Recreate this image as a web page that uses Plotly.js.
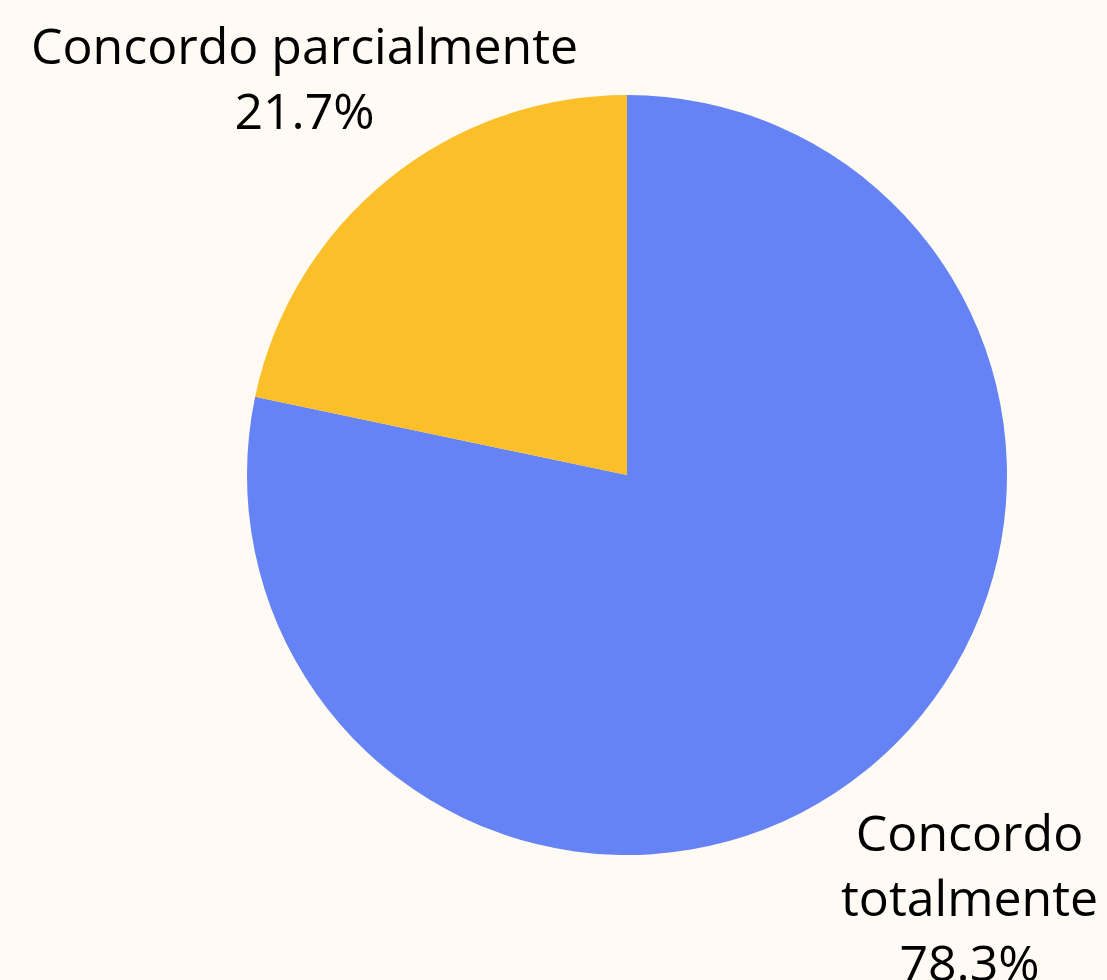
<!DOCTYPE html>
<html>
<head>
<meta charset="utf-8">
<script src="https://cdn.plot.ly/plotly-3.0.1.min.js"></script>
<style>html,body{margin:0;padding:0;background:#FFFAF3;}</style>
</head>
<body>
<div id="chart" style="width:1107px;height:980px;"></div>
<script>
const labels = ['Concordo totalmente', 'Concordo parcialmente'];
const displayLabels = ['Concordo<br>totalmente', 'Concordo parcialmente'];
const values = [78.3, 21.7];
const colors = ['#6583F4', '#FBBF29'];

// label placement (style): distance from centre in units of the pie radius
const labelRadius = [1.43, 1.346];

const total = values.reduce((a, b) => a + b, 0);
const annotations = [];
let cum = 0;
values.forEach((v, i) => {
  const mid = (cum + v / 2) / total * 2 * Math.PI; // clockwise from 12 o'clock
  cum += v;
  const pct = (v / total * 100).toFixed(1) + '%';
  annotations.push({
    xref: 'paper', yref: 'paper',
    x: 0.5 + 0.5 * labelRadius[i] * Math.sin(mid),
    y: 0.5 + 0.5 * labelRadius[i] * Math.cos(mid),
    xanchor: 'center', yanchor: 'middle',
    text: displayLabels[i] + '<br>' + pct,
    showarrow: false,
    align: 'center',
    font: {family: 'Open Sans', size: 50, color: '#000000'}
  });
});

Plotly.newPlot('chart', [{
  type: 'pie',
  labels: labels,
  values: values,
  textinfo: 'none',
  sort: false,
  direction: 'clockwise',
  rotation: 0,
  marker: {colors: colors, line: {width: 0}},
  hoverinfo: 'label+percent'
}], {
  width: 1107, height: 980,
  paper_bgcolor: '#FFFAF3',
  plot_bgcolor: '#FFFAF3',
  showlegend: false,
  margin: {l: 247, r: 100, t: 95, b: 125, autoexpand: false},
  annotations: annotations
}, {displayModeBar: false});
</script>
</body>
</html>
